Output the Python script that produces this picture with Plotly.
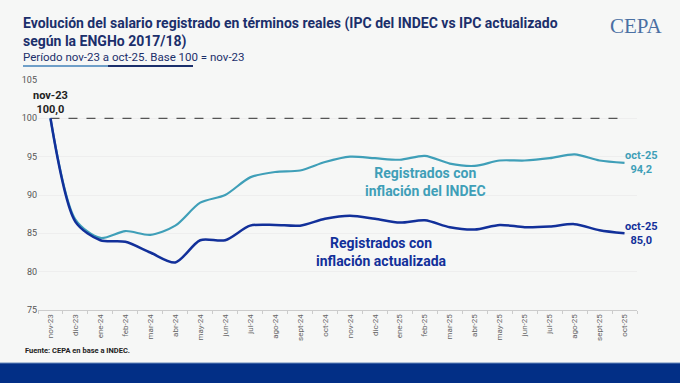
import plotly.graph_objects as go

months = ["nov-23", "dic-23", "ene-24", "feb-24", "mar-24", "abr-24", "may-24", "jun-24",
          "jul-24", "ago-24", "sept-24", "oct-24", "nov-24", "dic-24", "ene-25", "feb-25",
          "mar-25", "abr-25", "may-25", "jun-25", "jul-25", "ago-25", "sept-25", "oct-25"]
indec = [100.0, 86.8, 84.4, 85.3, 84.8, 86.0, 89.0, 90.0, 92.3, 93.0, 93.2, 94.3,
         95.0, 94.8, 94.6, 95.1, 94.1, 93.8, 94.5, 94.5, 94.8, 95.3, 94.5, 94.2]
actualizada = [100.0, 86.5, 84.1, 83.9, 82.5, 81.2, 84.1, 84.1, 86.0, 86.1, 86.0, 86.9,
               87.3, 86.9, 86.4, 86.7, 85.8, 85.5, 86.1, 85.8, 85.9, 86.2, 85.4, 85.0]
base_value = 100.0
y_ticks = [75, 80, 85, 90, 95, 100, 105]

TEAL = "#3f9fb8"
NAVY = "#12309a"
FONT = "Roboto"

fig = go.Figure()
fig.add_trace(go.Scatter(x=[months[0], months[-1]], y=[base_value, base_value], mode="lines",
                         line=dict(color="#555555", width=1.3, dash="dash"), hoverinfo="skip"))
fig.add_trace(go.Scatter(x=months, y=indec, mode="lines",
                         line=dict(color=TEAL, width=2.2, shape="spline", smoothing=0.8)))
fig.add_trace(go.Scatter(x=months, y=actualizada, mode="lines",
                         line=dict(color=NAVY, width=2.5, shape="spline", smoothing=0.8)))

fig.update_layout(
    width=680, height=383,
    margin=dict(l=38, r=43, t=80, b=73),
    paper_bgcolor="#f6f7f6", plot_bgcolor="#f6f7f6",
    showlegend=False,
    font=dict(family=FONT, color="#555555"),
    xaxis=dict(type="category", categoryorder="array", categoryarray=months,
               tickangle=-90, tickfont=dict(size=8, color="#666666"),
               showgrid=False, showline=True, linecolor="#cccccc", linewidth=1,
               ticks="outside", tickson="boundaries", ticklen=3, tickcolor="#cccccc",
               range=[-0.5, len(months) - 0.5], fixedrange=True),
    yaxis=dict(range=[75, 105], tickvals=y_ticks, tickfont=dict(size=9, color="#555555"),
               showgrid=True, gridcolor="#eeeeee", zeroline=False, showline=False,
               ticks="", fixedrange=True),
)

PH = 230.0
PW = 599.0


def px_x(p):
    return (p - 38) / PW


def px_y(p):
    return (310 - p) / PH


fig.add_annotation(xref="paper", yref="paper", x=px_x(21), y=px_y(13), xanchor="left", yanchor="top",
                   text="<b>Evolución del salario registrado en términos reales (IPC del INDEC vs IPC actualizado<br>según la ENGHo 2017/18)</b>",
                   showarrow=False, align="left", font=dict(size=14, color="#1b2f6b", family=FONT))
fig.add_annotation(xref="paper", yref="paper", x=px_x(21), y=px_y(48), xanchor="left", yanchor="top",
                   text="Período nov-23 a oct-25. Base 100 = nov-23", showarrow=False,
                   font=dict(size=11.5, color="#1b2f6b", family=FONT))

# title underline (two-tone)
fig.add_shape(type="line", xref="paper", yref="paper", x0=px_x(23), x1=px_x(108),
              y0=px_y(66), y1=px_y(66), line=dict(color="#6f9fc8", width=2))
fig.add_shape(type="line", xref="paper", yref="paper", x0=px_x(108), x1=px_x(193),
              y0=px_y(66), y1=px_y(66), line=dict(color="#1b2f6b", width=2))

# CEPA logo text
fig.add_annotation(xref="paper", yref="paper", x=px_x(636), y=px_y(26),
                   text="CEPA", showarrow=False, xanchor="center", yanchor="middle",
                   font=dict(size=21, color="#4a70a3", family="Liberation Serif"))

# bottom band
fig.add_shape(type="rect", xref="paper", yref="paper", x0=px_x(0), x1=px_x(680),
              y0=px_y(383), y1=px_y(363), fillcolor="#022f86", line=dict(width=0),
              layer="above")
fig.add_shape(type="line", xref="paper", yref="paper", x0=px_x(0), x1=px_x(680),
              y0=px_y(363), y1=px_y(363), line=dict(color="#6688bb", width=1),
              layer="above")

# source
fig.add_annotation(xref="paper", yref="paper", x=px_x(23), y=px_y(350),
                   text="<b>Fuente: CEPA en base a INDEC.</b>", showarrow=False,
                   xanchor="left", yanchor="middle", font=dict(size=7.5, color="#222222", family=FONT))

# data labels
fig.add_annotation(x=months[0], y=base_value, text="<b>nov-23<br>100,0</b>", showarrow=False,
                   yanchor="bottom", yshift=0, font=dict(size=11, color="#222222", family=FONT))
fig.add_annotation(x=months[-1], y=indec[-1], text="<b>oct-25<br>%s</b>" % f"{indec[-1]:.1f}".replace(".", ","),
                   showarrow=False, xanchor="center", xshift=17, yshift=0,
                   font=dict(size=11, color=TEAL, family=FONT))
fig.add_annotation(x=months[-1], y=actualizada[-1], text="<b>oct-25<br>%s</b>" % f"{actualizada[-1]:.1f}".replace(".", ","),
                   showarrow=False, xanchor="center", xshift=17, yshift=0,
                   font=dict(size=11, color=NAVY, family=FONT))

# series labels
fig.add_annotation(x=months[15], y=91.7, text="<b>Registrados con<br>inflación del INDEC</b>",
                   showarrow=False, xshift=1, font=dict(size=14, color=TEAL, family=FONT))
fig.add_annotation(x=months[13], y=82.6, text="<b>Registrados con<br>inflación actualizada</b>",
                   showarrow=False, xshift=7, font=dict(size=14, color=NAVY, family=FONT))

fig.write_html("out.html", config={"displayModeBar": False},
               post_script="document.body.style.margin='0px';document.body.style.overflow='hidden';")
